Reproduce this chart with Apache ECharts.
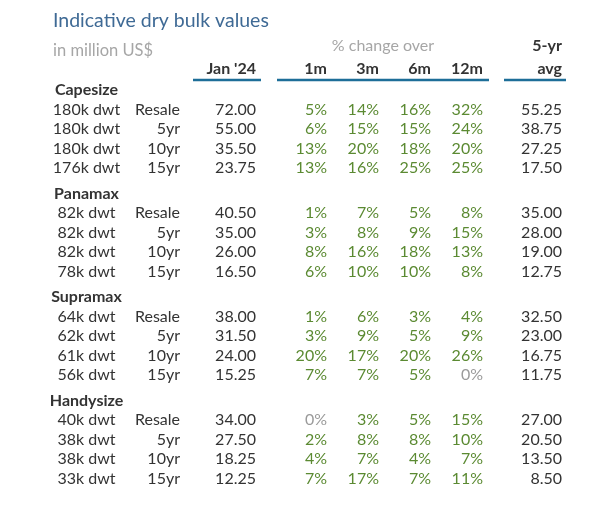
<!DOCTYPE html>
<html>
<head>
<meta charset="utf-8">
<script src="https://cdn.jsdelivr.net/npm/echarts@6/dist/echarts.min.js"></script>
<style>
html,body{margin:0;padding:0;background:#fff;}
#chart{width:600px;height:509px;}
</style>
</head>
<body>
<div id="chart"></div>
<script>
// ---- data ----
var groups = ['Capesize', 'Panamax', 'Supramax', 'Handysize'];
var sizes = [
  ['180k dwt', '180k dwt', '180k dwt', '176k dwt'],
  ['82k dwt', '82k dwt', '82k dwt', '78k dwt'],
  ['64k dwt', '62k dwt', '61k dwt', '56k dwt'],
  ['40k dwt', '38k dwt', '38k dwt', '33k dwt']
];
var ages = ['Resale', '5yr', '10yr', '15yr'];
var jan24 = [
  [72.00, 55.00, 35.50, 23.75],
  [40.50, 35.00, 26.00, 16.50],
  [38.00, 31.50, 24.00, 15.25],
  [34.00, 27.50, 18.25, 12.25]
];
var chg1m = [[5, 6, 13, 13], [1, 3, 8, 6], [1, 3, 20, 7], [0, 2, 4, 7]];
var chg3m = [[14, 15, 20, 16], [7, 8, 16, 10], [6, 9, 17, 7], [3, 8, 7, 17]];
var chg6m = [[16, 15, 18, 25], [5, 9, 18, 10], [3, 5, 20, 5], [5, 8, 4, 7]];
var chg12m = [[32, 24, 20, 25], [8, 15, 13, 8], [4, 9, 26, 0], [15, 10, 7, 11]];
var avg5yr = [
  [55.25, 38.75, 27.25, 17.50],
  [35.00, 28.00, 19.00, 12.75],
  [32.50, 23.00, 16.75, 11.75],
  [27.00, 20.50, 13.50, 8.50]
];
var colHeaders = ['Jan \'24', '1m', '3m', '6m', '12m', 'avg'];
var titleText = 'Indicative dry bulk values';
var unitText = 'in million US$';
var changeOverText = '% change over';
var avgTopText = '5-yr';

// ---- layout ----
var FONT = 'Lato, "Noto Sans", sans-serif';
var FS = 16;
var colX = { ship: 86.5, age: 180, jan: 256, m1: 327, m3: 379, m6: 431, m12: 483, avg: 562 };
var firstRowY = 90, rowH = 19.5, groupH = 103.5;
var headY = 68.5, topHeadY = 46, ruleY = 80;
var rules = [[193, 261], [277, 489], [504, 566]];
var C_TEXT = '#333333', C_GREEN = '#5b8a32', C_GRAY = '#a6a6a6', C_ZERO = '#9a9a9a', C_RULE = '#1d6e98';

var cells = [];
function add(x, y, text, align, color, bold) {
  cells.push({ x: x, y: y, text: text, align: align, color: color, bold: !!bold });
}
// header
add((rules[1][0] + rules[1][1]) / 2, topHeadY, changeOverText, 'center', C_GRAY, false);
add(colX.avg, topHeadY, avgTopText, 'right', C_TEXT, true);
var hdrCols = ['jan', 'm1', 'm3', 'm6', 'm12', 'avg'];
hdrCols.forEach(function (k, i) { add(colX[k], headY, colHeaders[i], 'right', C_TEXT, true); });

function pct(v) { return { t: v + '%', c: v === 0 ? C_ZERO : C_GREEN }; }
groups.forEach(function (g, gi) {
  var y0 = firstRowY + gi * groupH;
  add(colX.ship, y0, g, 'center', C_TEXT, true);
  for (var r = 0; r < 4; r++) {
    var y = y0 + (r + 1) * rowH;
    add(colX.ship, y, sizes[gi][r], 'center', C_TEXT);
    add(colX.age, y, ages[r], 'right', C_TEXT);
    add(colX.jan, y, jan24[gi][r].toFixed(2), 'right', C_TEXT);
    [['m1', chg1m], ['m3', chg3m], ['m6', chg6m], ['m12', chg12m]].forEach(function (p) {
      var o = pct(p[1][gi][r]);
      add(colX[p[0]], y, o.t, 'right', o.c);
    });
    add(colX.avg, y, avg5yr[gi][r].toFixed(2), 'right', C_TEXT);
  }
});

var chart = echarts.init(document.getElementById('chart'), null, { renderer: 'canvas' });
chart.setOption({
  animation: false,
  backgroundColor: '#ffffff',
  title: [
    { text: titleText, left: 48, top: 6, textStyle: { fontFamily: FONT, fontSize: 19.5, fontWeight: 'normal', color: '#3f6a95' } },
    { text: unitText, left: 48, top: 37, textStyle: { fontFamily: FONT, fontSize: 16.5, fontWeight: 'normal', color: C_GRAY } }
  ],
  grid: { left: 0, right: 0, top: 0, bottom: 0 },
  xAxis: { type: 'value', min: 0, max: 600, show: false },
  yAxis: { type: 'value', min: 0, max: 509, inverse: true, show: false },
  series: [
    {
      type: 'custom',
      silent: true,
      data: cells.map(function (c) { return [c.x, c.y]; }),
      renderItem: function (params, api) {
        var c = cells[params.dataIndex];
        var p = api.coord([api.value(0), api.value(1)]);
        return {
          type: 'text',
          x: p[0], y: p[1],
          style: {
            text: c.text, fill: c.color, align: c.align, verticalAlign: 'middle',
            fontFamily: FONT, fontSize: FS, fontWeight: c.bold ? 'bold' : 'normal'
          }
        };
      }
    },
    {
      type: 'custom',
      silent: true,
      data: rules.map(function (r) { return [r[0], r[1], ruleY]; }),
      renderItem: function (params, api) {
        var a = api.coord([api.value(0), api.value(2)]);
        var b = api.coord([api.value(1), api.value(2)]);
        return { type: 'line', shape: { x1: a[0], y1: a[1], x2: b[0], y2: b[1] }, style: { stroke: C_RULE, lineWidth: 2.5 } };
      }
    }
  ]
});
</script>
</body>
</html>
